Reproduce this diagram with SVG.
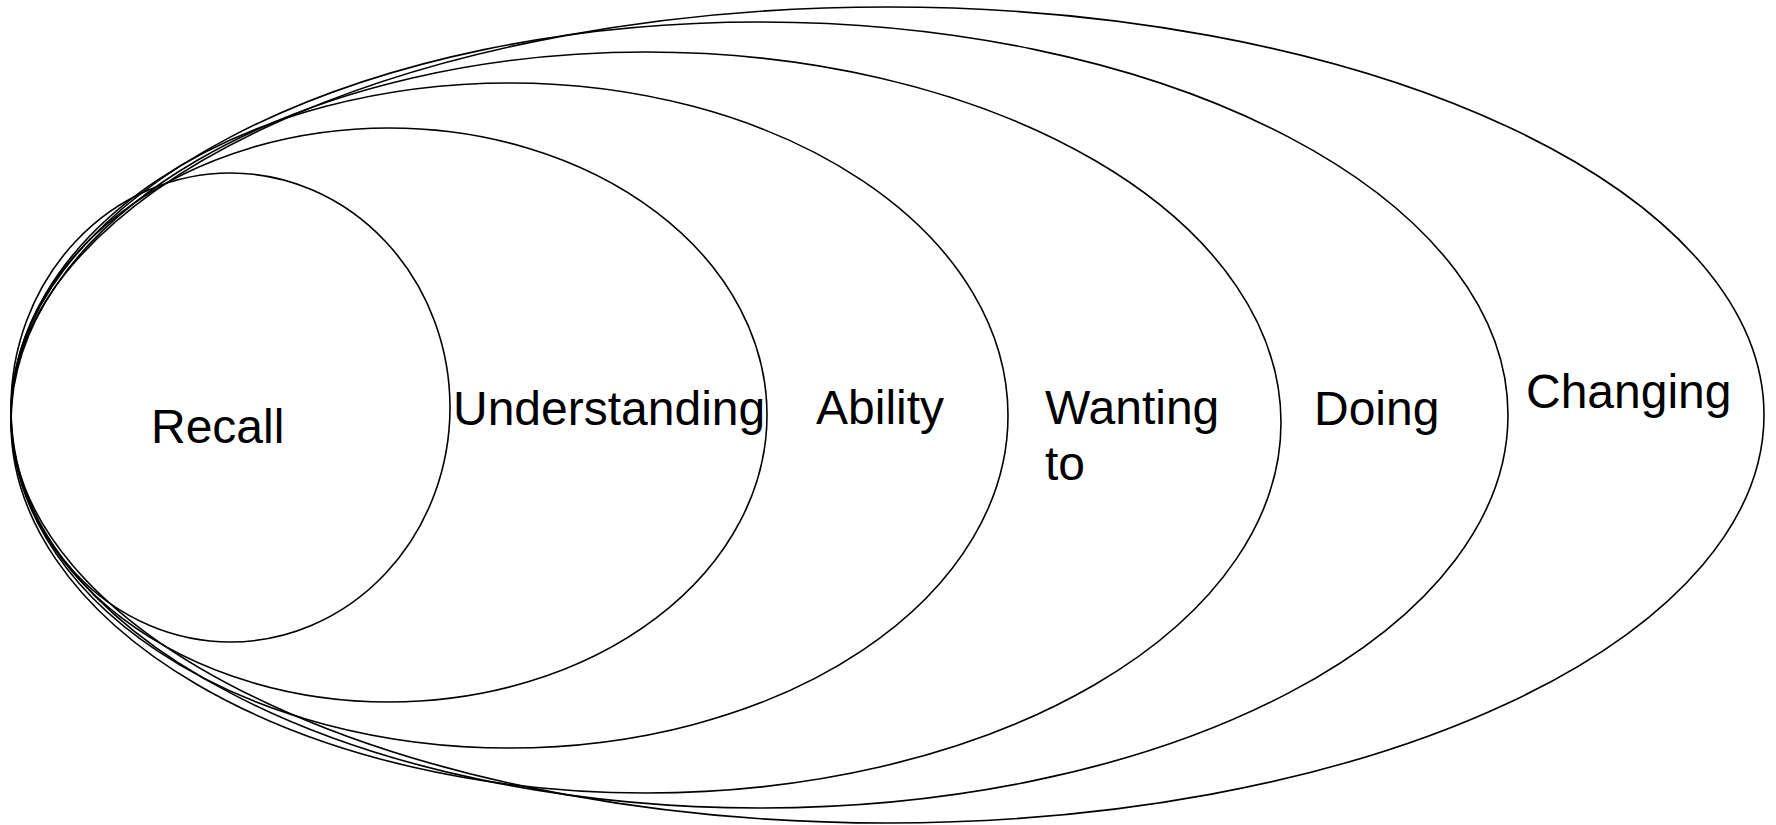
<svg xmlns="http://www.w3.org/2000/svg" width="1776" height="825" viewBox="0 0 1776 825">
<style>
.ring{fill:none;stroke:#000;stroke-width:1.6}
.lbl{font-family:"Liberation Sans",Arial,sans-serif;font-size:48px;fill:#000}
</style>
<rect width="1776" height="825" fill="#fff"/>
<g id="changing"><ellipse class="ring" cx="887.5" cy="415" rx="876.5" ry="408"/><text class="lbl" x="1526" y="408">Changing</text></g>
<g id="doing"><ellipse class="ring" cx="759.5" cy="415" rx="748.5" ry="393"/><text class="lbl" x="1314" y="425">Doing</text></g>
<g id="wanting"><ellipse class="ring" cx="646" cy="422.5" rx="635" ry="370.5"/><text class="lbl" x="1045" y="424">Wanting</text><text class="lbl" x="1045" y="480">to</text></g>
<g id="ability"><ellipse class="ring" cx="509.5" cy="415.5" rx="498.5" ry="332.5"/><text class="lbl" x="816" y="424">Ability</text></g>
<g id="understanding"><ellipse class="ring" cx="389" cy="415" rx="378" ry="287"/><text class="lbl" x="453" y="425">Understanding</text></g>
<g id="recall"><ellipse class="ring" cx="230.5" cy="407.5" rx="219.5" ry="234.5"/><text class="lbl" x="151" y="443">Recall</text></g>
<g id="connectors"/>
</svg>
